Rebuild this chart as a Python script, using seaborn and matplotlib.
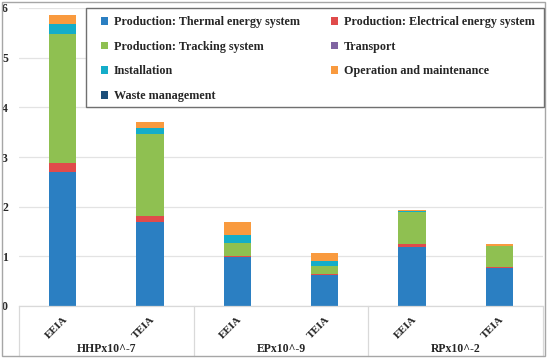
import numpy as np
import pandas as pd
import matplotlib
matplotlib.use('Agg')
import matplotlib.pyplot as plt
import seaborn as sns
from matplotlib.patches import Patch, Rectangle
from matplotlib.lines import Line2D

# data
bars = ['HHP EEIA', 'HHP TEIA', 'EP EEIA', 'EP TEIA', 'RP EEIA', 'RP TEIA']
tick_labels = ['EEIA', 'TEIA', 'EEIA', 'TEIA', 'EEIA', 'TEIA']
groups = ['HHPx10^-7', 'EPx10^-9', 'RPx10^-2']

stages = ['Production: Thermal energy system',
          'Production: Electrical energy system',
          'Production: Tracking system',
          'Transport',
          'Installation',
          'Operation and maintenance',
          'Waste management']

thermal = [2.70, 1.70, 0.98, 0.62, 1.19, 0.77]
electrical = [0.18, 0.12, 0.03, 0.03, 0.06, 0.02]
tracking = [2.59, 1.64, 0.26, 0.15, 0.65, 0.41]
transport = [0.01, 0.01, 0.005, 0.005, 0.002, 0.002]
installation = [0.20, 0.12, 0.16, 0.11, 0.005, 0.005]
operation = [0.18, 0.12, 0.25, 0.16, 0.03, 0.035]
waste = [0.001, 0.001, 0.001, 0.001, 0.0005, 0.0005]

colors = ['#2B7FC2', '#E04B4B', '#8FC051', '#8064A2', '#14ADC9', '#F99A3E', '#1B4E7A']

series = [thermal, electrical, tracking, transport, installation, operation, waste]

sns.set_style('white')
plt.rcParams['font.family'] = ['Liberation Serif', 'DejaVu Serif']
plt.rcParams['font.weight'] = 'bold'

fig = plt.figure(figsize=(5.5, 3.61), dpi=100)
ax = fig.add_axes([19 / 550, 1 - 306 / 361, 524 / 550, 298 / 361])

cum = np.cumsum(np.array(series), axis=0)
# draw from top of stack down so lower segments overlap upper cumulative bars
for i in range(len(series) - 1, -1, -1):
    df = pd.DataFrame({'bar': bars, 'value': cum[i]})
    sns.barplot(data=df, x='bar', y='value', order=bars, color=colors[i],
                saturation=1, width=0.31, linewidth=0, ax=ax, errorbar=None)

ax.set_xlim(-0.5, 5.5)
ax.set_ylim(0, 6)
ax.set_yticks(range(7))
ax.set_yticklabels([str(v) for v in range(7)], fontsize=8.5, fontweight='bold')
ax.set_xlabel('')
ax.set_ylabel('')
ax.set_xticks(range(6))
ax.set_xticklabels(tick_labels, rotation=45, ha='right', rotation_mode='anchor',
                   fontsize=8, fontweight='bold')
ax.tick_params(axis='x', length=0, pad=6)
ax.tick_params(axis='y', length=0, pad=8)

ax.yaxis.grid(True, color='#e3e3e3', linewidth=0.9)
ax.set_axisbelow(True)
for s in ['left', 'right', 'top']:
    ax.spines[s].set_visible(False)
ax.spines['bottom'].set_color('#d9d9d9')
ax.spines['bottom'].set_linewidth(0.9)

# group separators and labels below the axis
xt = ax.get_xaxis_transform()
for xs in [-0.5, 1.5, 3.5, 5.5]:
    ax.add_line(Line2D([xs, xs], [0, -0.168], color='#d9d9d9', linewidth=0.9,
                       clip_on=False, transform=xt))
for k, g in enumerate(groups):
    ax.text(2 * k + 0.5, -0.143, g, ha='center', va='center', fontsize=8.5,
            fontweight='bold', transform=xt)

# legend with a separately drawn frame
order = [0, 2, 4, 6, 1, 3, 5]
handles = [Patch(facecolor=colors[i], edgecolor='none', label=stages[i]) for i in order]
fig.patches.append(Rectangle((86 / 550, 1 - 107 / 361), 458 / 550, 99 / 361,
                             transform=fig.transFigure, facecolor='white',
                             edgecolor='#707070', linewidth=1.0, zorder=5))
leg = fig.legend(handles=handles, ncol=2, loc='upper left',
                 bbox_to_anchor=(101 / 550, 1 - 16 / 361), prop={'size': 8.7, 'weight': 'bold'},
                 frameon=False, handlelength=0.6, handleheight=0.6,
                 handletextpad=0.45, labelspacing=1.05, columnspacing=2.6,
                 borderpad=0.0, borderaxespad=0.0)
leg.set_zorder(6)

# outer chart frame
fig.patches.append(Rectangle((2 / 550, 1 - 356 / 361), 543 / 550, 354 / 361,
                             transform=fig.transFigure, fill=False,
                             edgecolor='#a6a6a6', linewidth=1.0))

fig.savefig('out.png', dpi=100)
